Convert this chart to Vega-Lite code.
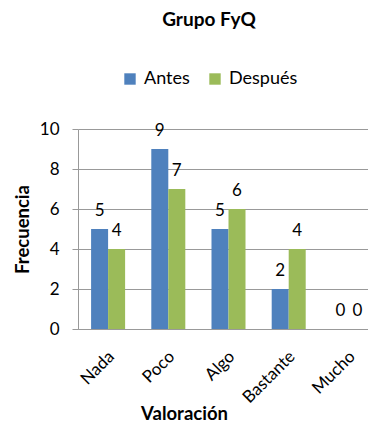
{
  "$schema": "https://vega.github.io/schema/vega-lite/v6.json",
  "autosize": "none",
  "width": 290,
  "height": 200,
  "padding": {"left": 78, "top": 129, "right": 0, "bottom": 97},
  "background": "white",
  "config": {
    "view": {"stroke": null},
    "font": "Lato",
    "axis": {"labelFont": "Lato", "titleFont": "Lato"}
  },
  "title": {
    "text": "Grupo FyQ",
    "font": "Lato",
    "fontSize": 19,
    "fontWeight": "bold",
    "color": "#000000",
    "anchor": "middle",
    "dx": -14,
    "offset": 40
  },
  "data": {
    "values": [
      {"cat": "Nada", "serie": "Antes", "valor": 5},
      {"cat": "Nada", "serie": "Después", "valor": 4},
      {"cat": "Poco", "serie": "Antes", "valor": 9},
      {"cat": "Poco", "serie": "Después", "valor": 7},
      {"cat": "Algo", "serie": "Antes", "valor": 5},
      {"cat": "Algo", "serie": "Después", "valor": 6},
      {"cat": "Bastante", "serie": "Antes", "valor": 2},
      {"cat": "Bastante", "serie": "Después", "valor": 4},
      {"cat": "Mucho", "serie": "Antes", "valor": 0},
      {"cat": "Mucho", "serie": "Después", "valor": 0}
    ]
  },
  "encoding": {
    "x": {
      "field": "cat",
      "type": "nominal",
      "sort": ["Nada", "Poco", "Algo", "Bastante", "Mucho"],
      "scale": {"range": [0, 301], "paddingInner": 0.435, "paddingOuter": 0.2175},
      "axis": {
        "title": "Valoración",
        "titleFontSize": 18.5,
        "titleFontWeight": "bold",
        "titleColor": "#000000",
        "titleX": 106,
        "titleY": 90,
        "titleAlign": "center",
        "titleBaseline": "alphabetic",
        "labelAngle": -45,
        "labelFontSize": 17,
        "labelColor": "#000000",
        "labelAlign": "right",
        "labelBaseline": "top",
        "ticks": false,
        "labelPadding": 19,
        "labelOffset": -2,
        "domainColor": "#999999",
        "grid": false
      }
    },
    "xOffset": {"field": "serie", "type": "nominal", "sort": ["Antes", "Después"]},
    "y": {
      "field": "valor",
      "type": "quantitative",
      "scale": {"domain": [0, 10]},
      "axis": {
        "title": "Frecuencia",
        "titleFontSize": 18.5,
        "titleFontWeight": "bold",
        "titleColor": "#000000",
        "titleX": -49.5,
        "titleY": 100,
        "titleAlign": "center",
        "titleBaseline": "alphabetic",
        "values": [0, 2, 4, 6, 8, 10],
        "labelFontSize": 17,
        "labelColor": "#000000",
        "tickSize": 6,
        "tickColor": "#999999",
        "labelPadding": 13,
        "domainColor": "#999999",
        "gridColor": "#999999"
      }
    }
  },
  "layer": [
    {
      "mark": {"type": "bar"},
      "encoding": {
        "color": {
          "field": "serie",
          "type": "nominal",
          "sort": ["Antes", "Después"],
          "scale": {"domain": ["Antes", "Después"], "range": ["#4F81BD", "#9BBB59"]},
          "legend": {
            "title": null,
            "orient": "none",
            "direction": "horizontal",
            "legendX": 43,
            "legendY": -59,
            "padding": 0,
            "symbolType": "square",
            "symbolSize": 130,
            "symbolStrokeWidth": 0,
            "labelFontSize": 18,
            "labelColor": "#000000",
            "labelOffset": 5,
            "columnPadding": 16
          }
        }
      }
    },
    {
      "mark": {"type": "text", "baseline": "middle", "dy": -18.5, "fontSize": 17, "color": "#000000"},
      "encoding": {
        "text": {"field": "valor", "type": "quantitative"}
      }
    }
  ]
}
